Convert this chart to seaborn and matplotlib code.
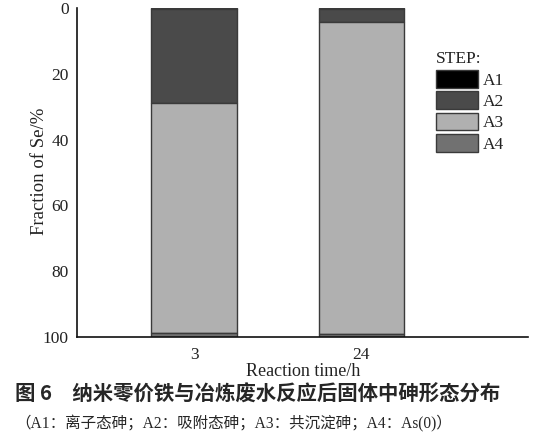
import numpy as np
import pandas as pd
import matplotlib
matplotlib.use('Agg')
import matplotlib.pyplot as plt
from matplotlib.patches import Patch
import seaborn as sns

times = ['3', '24']
steps = ['A1', 'A2', 'A3', 'A4']
A1 = [0.3, 0.2]
A2 = [28.7, 4.0]
A3 = [69.8, 94.8]
A4 = [1.2, 1.0]
colors = ['#000000', '#4a4a4a', '#b0b0b0', '#717171']

df = pd.DataFrame({'time': times, 'A1': A1, 'A2': A2, 'A3': A3, 'A4': A4})

sns.set_style('white')
plt.rcParams['font.family'] = ['Liberation Serif', 'Noto Sans CJK SC']

fig = plt.figure(figsize=(5.59, 4.42), dpi=100)
ax = fig.add_axes([0.138, 0.2376, 0.807, 0.744])

bottom = np.zeros(len(times))
for s, c in zip(steps, colors):
    sns.barplot(data=df, x='time', y=s, order=times, color=c, bottom=bottom,
                width=0.51, edgecolor='#3a3a3a', linewidth=1.0, saturation=1, ax=ax)
    bottom = bottom + df[s].values

ax.set_ylim(100, 0)
ax.set_xlim(-0.70, 2.0)
ax.set_yticks([0, 20, 40, 60, 80, 100])
ax.tick_params(axis='y', direction='in', length=4, width=1, labelsize=12.5, pad=6, colors='#222222')
ax.tick_params(axis='x', length=0, labelsize=12.5, pad=7, colors='#222222')
for sp in ['top', 'right']:
    ax.spines[sp].set_visible(False)
for sp in ['left', 'bottom']:
    ax.spines[sp].set_color('#111111')
    ax.spines[sp].set_linewidth(1.2)

ax.set_xlabel('Reaction time/h', fontsize=13, labelpad=0, color='#222222')
ax.set_ylabel('Fraction of Se/%', fontsize=13.5, color='#222222')
ax.yaxis.set_label_coords(-0.064, 0.505)

handles = [Patch(facecolor=c, edgecolor='#3a3a3a', label=s) for s, c in zip(steps, colors)]
leg = ax.legend(handles=handles, title='STEP:', loc='upper left', bbox_to_anchor=(0.78, 0.89),
                frameon=False, fontsize=12.5, title_fontsize=12.5, handlelength=2.4,
                handleheight=1.2, handletextpad=0.3, labelspacing=0.15, borderaxespad=0)
leg._legend_box.align = 'left'
for t in leg.get_texts():
    t.set_color('#222222')
leg.get_title().set_color('#222222')

fig.text(0.5 * (15 + 500) / 559, 0.108, '图 6　纳米零价铁与冶炼废水反应后固体中砷形态分布',
         ha='center', va='center', fontsize=14.7, fontweight='bold',
         family=['Noto Sans CJK SC', 'DejaVu Sans'])
fig.text(15 / 559, 0.04, '（A1：离子态砷；A2：吸附态砷；A3：共沉淀砷；A4：As(0)）',
         ha='left', va='center', fontsize=11.2, family=['Liberation Serif', 'Noto Sans CJK SC'])

fig.savefig('out.png', dpi=100)
